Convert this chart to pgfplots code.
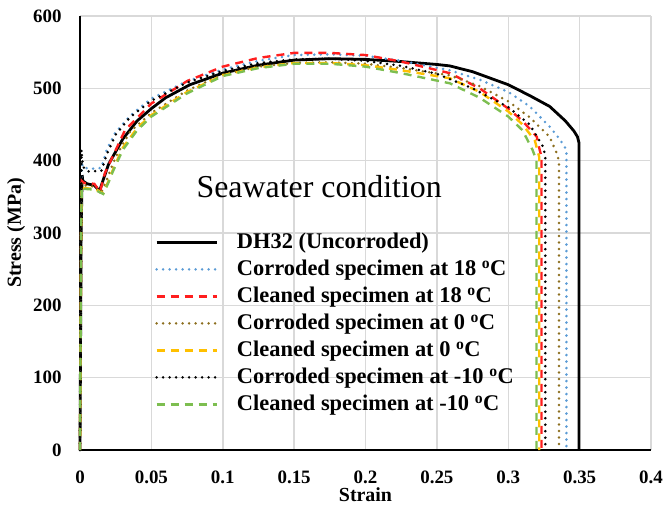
\documentclass[border=0pt]{standalone}
\usepackage{pgfplots}
\pgfplotsset{compat=1.18}
\usepackage{fontspec}
\setmainfont{Liberation Serif}
\definecolor{cblue}{RGB}{91,155,213}
\definecolor{cred}{RGB}{255,30,30}
\definecolor{cbrown}{RGB}{140,110,30}
\definecolor{cyellow}{RGB}{255,192,0}
\definecolor{cgreen}{RGB}{125,190,80}
\definecolor{cgrid}{RGB}{217,217,217}
\pgfplotsset{
  dotline/.style={line width=2.8bp, line cap=round, dash pattern=on 0bp off 6.5bp},
  dashline/.style={line width=2.4bp, dash pattern=on 8bp off 6bp},
  legend image code/.code={\draw[#1] (0bp,0bp) -- (60bp,0bp);}
}
\begin{document}
\begin{tikzpicture}
\useasboundingbox (-80bp,-58bp) rectangle (584bp,450bp);
\begin{axis}[
  at={(0,0)}, anchor=south west,
  scale only axis, width=571bp, height=434bp,
  xmin=0, xmax=0.4, ymin=0, ymax=600,
  axis x line=bottom, axis y line=left,
  axis line style={line width=2bp, -},
  xtick={0,0.05,0.1,0.15,0.2,0.25,0.3,0.35,0.4},
  xticklabels={0,0.05,0.1,0.15,0.2,0.25,0.3,0.35,0.4},
  ytick={0,100,200,300,400,500,600},
  yticklabels={0,100,200,300,400,500,600},
  major tick length=0pt,
  grid=major,
  major grid style={cgrid, line width=1.5bp},
  tick label style={font=\fontsize{19}{19}\selectfont\bfseries},
  xticklabel style={yshift=-17bp},
  yticklabel style={xshift=-15bp},
  xlabel={\textbf{Strain}},
  ylabel={\textbf{Stress (MPa)}},
  label style={font=\fontsize{20}{20}\selectfont},
  xlabel style={at={(axis description cs:0.5,0)}, anchor=center, yshift=-45bp},
  ylabel style={at={(axis description cs:0,0.5)}, anchor=center, yshift=64bp},
  legend style={draw=none, fill=none, inner sep=0pt, at={(rel axis cs:0.1313,0.51)}, anchor=north west,
    font=\fontsize{22.5}{22.5}\selectfont\bfseries, row sep=0bp,
    nodes={inner sep=1bp, text height=19bp, text depth=6bp},
    /tikz/every odd column/.append style={column sep=18bp}},
  legend cell align=left,
  clip=false,
]
% DH32 uncorroded
\addplot[black, line width=2.8bp] coordinates {
(0,0)(0.0008,300)(0.0015,380)(0.002,372)(0.005,368)(0.01,366)(0.0137,358)(0.016,372)(0.02,395)(0.03,430)(0.04,455)(0.05,472)(0.06,487)(0.077,505)(0.1,521)(0.125,532)(0.15,539)(0.175,541)(0.2,540)(0.225,537)(0.25,533)(0.259,531)(0.275,523)(0.3,505)(0.315,490)(0.329,475)(0.34,455)(0.346,441)(0.3485,433)(0.3495,425)(0.3495,0)};
\addlegendentry{DH32 (Uncorroded)}
% Corroded 18
\addplot[cblue, dotline] coordinates {
(0,0)(0.0008,300)(0.0012,399)(0.002,390)(0.01,389)(0.015,390)(0.0187,415)(0.0245,438)(0.035,462)(0.05,486)(0.075,510)(0.1,526)(0.125,538)(0.15,546)(0.175,547)(0.2,545)(0.225,538)(0.259,525)(0.28,512)(0.3,495)(0.315,475)(0.329,447)(0.336,430)(0.3408,415)(0.3408,0)};
\addlegendentry{Corroded specimen at 18 \textsuperscript{o}C}
% Cleaned 18
\addplot[cred, dashline] coordinates {
(0,0)(0.0008,300)(0.0012,372)(0.003,369)(0.01,368)(0.014,357)(0.0175,383)(0.0315,442)(0.05,479)(0.075,510)(0.1,530)(0.125,542)(0.15,549)(0.175,549)(0.2,546)(0.225,537)(0.259,521)(0.28,500)(0.3,472)(0.31,455)(0.32,433)(0.322,415)(0.3233,405)(0.3233,0)};
\addlegendentry{Cleaned specimen at 18 \textsuperscript{o}C}
% Corroded 0
\addplot[cbrown, dotline] coordinates {
(0,0)(0.0008,300)(0.0012,370)(0.003,366)(0.01,364)(0.015,356)(0.019,375)(0.025,405)(0.035,440)(0.05,466)(0.075,497)(0.1,519)(0.125,530)(0.15,535)(0.175,536)(0.2,534)(0.225,528)(0.259,518)(0.28,503)(0.3,482)(0.315,460)(0.329,433)(0.334,410)(0.3355,400)(0.3355,0)};
\addlegendentry{Corroded specimen at 0 \textsuperscript{o}C}
% Cleaned 0
\addplot[cyellow, dashline] coordinates {
(0,0)(0.0008,300)(0.0012,365)(0.003,362)(0.01,361)(0.0163,355)(0.02,372)(0.023,387)(0.03,418)(0.04,445)(0.05,463)(0.075,495)(0.1,518)(0.125,529)(0.15,535)(0.175,535)(0.2,532)(0.225,525)(0.259,514)(0.28,495)(0.3,468)(0.31,450)(0.3186,428)(0.3217,405)(0.3217,0)};
\addlegendentry{Cleaned specimen at 0 \textsuperscript{o}C}
% Corroded -10
\addplot[black, dotline] coordinates {
(0,0)(0.0008,300)(0.001,415)(0.002,392)(0.005,385)(0.015,386)(0.019,410)(0.025,436)(0.035,460)(0.05,483)(0.075,508)(0.1,524)(0.125,535)(0.15,540)(0.175,541)(0.2,538)(0.225,531)(0.25,520)(0.275,500)(0.3,474)(0.315,450)(0.3245,419)(0.326,405)(0.326,0)};
\addlegendentry{Corroded specimen at -10 \textsuperscript{o}C}
% Cleaned -10
\addplot[cgreen, dashline] coordinates {
(0,0)(0.0008,300)(0.0012,364)(0.003,361)(0.01,360)(0.0163,354)(0.02,370)(0.023,385)(0.03,415)(0.04,442)(0.05,461)(0.075,493)(0.1,517)(0.125,528)(0.15,534)(0.175,534)(0.2,530)(0.225,521)(0.259,507)(0.28,487)(0.3,461)(0.31,442)(0.317,415)(0.3198,400)(0.3198,0)};
\addlegendentry{Cleaned specimen at -10 \textsuperscript{o}C}
\node[font=\fontsize{32}{32}\selectfont, anchor=west] at (rel axis cs:0.198,0.608) {Seawater condition};
\end{axis}
\end{tikzpicture}
\end{document}
